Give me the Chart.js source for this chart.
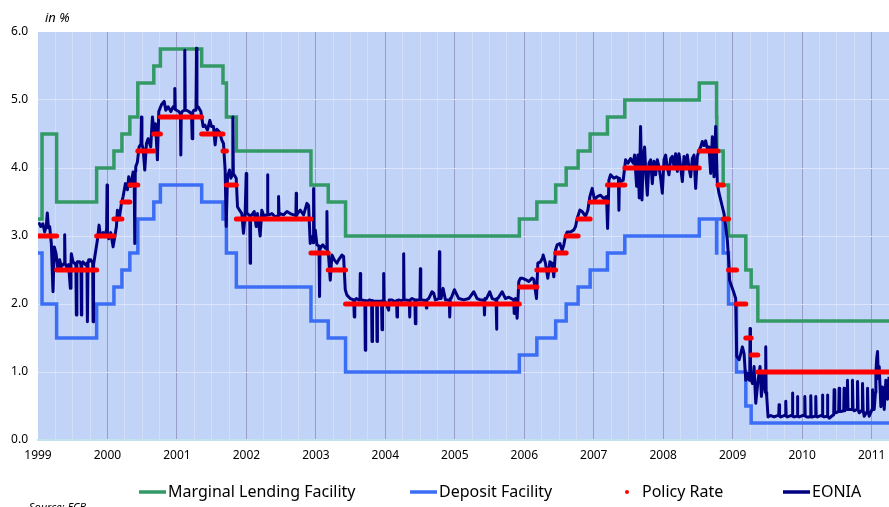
<!DOCTYPE html>
<html>
<head>
<meta charset="utf-8">
<script src="https://cdn.jsdelivr.net/npm/chart.js@4.4.1/dist/chart.umd.min.js"></script>
<style>
  html, body { margin: 0; padding: 0; background: #fff; overflow: hidden; }
  #wrap { width: 889px; height: 507px; position: relative; }
</style>
</head>
<body>
<div id="wrap"><canvas id="c"></canvas></div>
<script>
// key ECB rates: dates (decimal years) when a rate changed, and the level from that date on
const rateDates = [1999.0, 1999.058, 1999.268, 1999.844, 2000.093, 2000.208, 2000.322, 2000.437, 2000.667, 2000.762,
  2001.356, 2001.663, 2001.712, 2001.855, 2002.929, 2003.178, 2003.427, 2005.929, 2006.181, 2006.452,
  2006.603, 2006.775, 2006.948, 2007.197, 2007.447, 2008.519, 2008.768, 2008.771, 2008.787, 2008.863,
  2008.940, 2009.055, 2009.189, 2009.266, 2009.362, 2011.25];
const marginalLending = [3.25, 4.50, 3.50, 4.00, 4.25, 4.50, 4.75, 5.25, 5.50, 5.75,
  5.50, 5.25, 4.75, 4.25, 3.75, 3.50, 3.00, 3.25, 3.50, 3.75,
  4.00, 4.25, 4.50, 4.75, 5.00, 5.25, 4.75, 4.25, 4.25, 3.75,
  3.00, 3.00, 2.50, 2.25, 1.75, 1.75];
const depositFacility = [2.75, 2.00, 1.50, 2.00, 2.25, 2.50, 2.75, 3.25, 3.50, 3.75,
  3.50, 3.25, 2.75, 2.25, 1.75, 1.50, 1.00, 1.25, 1.50, 1.75,
  2.00, 2.25, 2.50, 2.75, 3.00, 3.25, 2.75, 3.25, 3.25, 2.75,
  2.00, 1.00, 0.50, 0.25, 0.25, 0.25];
const policyRate = [3.00, 3.00, 2.50, 3.00, 3.25, 3.50, 3.75, 4.25, 4.50, 4.75,
  4.50, 4.25, 3.75, 3.25, 2.75, 2.50, 2.00, 2.25, 2.50, 2.75,
  3.00, 3.25, 3.50, 3.75, 4.00, 4.25, 4.25, 4.25, 3.75, 3.25,
  2.50, 2.00, 1.50, 1.25, 1.00, 1.00];

// EONIA [decimal year, %]
const eonia = [
  [1999.01,3.20],[1999.04,3.14],[1999.07,3.18],[1999.096,3.06],[1999.12,3.15],[1999.134,3.34],[1999.15,3.12],[1999.168,3.14],
  [1999.192,2.89],[1999.216,2.18],[1999.235,2.84],[1999.26,2.74],[1999.288,2.50],[1999.312,2.65],[1999.336,2.55],[1999.378,2.60],
  [1999.384,3.02],[1999.39,2.60],[1999.408,2.55],[1999.44,2.58],[1999.466,2.23],[1999.475,2.60],[1999.48,2.74],[1999.504,2.62],
  [1999.545,2.58],[1999.552,1.84],[1999.56,2.60],[1999.567,2.62],[1999.60,2.62],[1999.618,2.58],[1999.624,1.84],[1999.63,2.60],
  [1999.648,2.62],[1999.68,2.58],[1999.705,2.60],[1999.711,1.74],[1999.72,2.62],[1999.73,2.65],[1999.759,2.65],[1999.787,2.60],
  [1999.793,1.74],[1999.80,2.58],[1999.826,2.75],[1999.855,2.94],[1999.879,3.16],[1999.90,3.00],[1999.913,2.99],[1999.937,3.05],
  [1999.961,2.99],[1999.988,3.10],[1999.994,3.75],[2000.00,3.00],[2000.018,2.96],[2000.047,3.05],[2000.081,2.84],[2000.105,2.99],
  [2000.129,3.14],[2000.143,3.38],[2000.167,3.24],[2000.201,3.48],[2000.225,3.58],[2000.258,3.77],[2000.287,3.68],[2000.306,3.87],
  [2000.335,3.73],[2000.369,3.94],[2000.385,3.82],[2000.393,2.89],[2000.40,3.95],[2000.407,4.02],[2000.431,4.09],[2000.455,4.31],
  [2000.482,4.35],[2000.489,4.75],[2000.496,4.35],[2000.513,4.28],[2000.537,3.97],[2000.561,4.36],[2000.585,4.43],[2000.623,4.31],
  [2000.647,4.75],[2000.671,4.53],[2000.691,4.65],[2000.719,4.12],[2000.739,4.83],[2000.777,4.93],[2000.816,4.98],[2000.840,4.85],
  [2000.873,4.90],[2000.912,4.83],[2000.945,4.90],[2000.962,4.88],[2000.969,5.17],[2000.976,4.86],[2000.993,4.85],[2001.027,4.83],
  [2001.05,4.80],[2001.056,4.19],[2001.062,4.80],[2001.075,4.83],[2001.106,4.85],[2001.113,5.73],[2001.12,4.85],[2001.137,4.85],
  [2001.171,4.83],[2001.21,4.80],[2001.219,4.43],[2001.228,4.82],[2001.243,4.85],[2001.274,4.85],[2001.281,5.76],[2001.288,4.90],
  [2001.305,4.90],[2001.344,4.83],[2001.377,4.61],[2001.402,4.63],[2001.440,4.56],[2001.474,4.70],[2001.498,4.61],[2001.526,4.61],
  [2001.550,4.34],[2001.574,4.57],[2001.612,4.53],[2001.646,4.41],[2001.670,4.36],[2001.694,3.97],[2001.709,3.14],[2001.728,3.87],
  [2001.757,3.97],[2001.776,3.85],[2001.798,3.90],[2001.805,4.75],[2001.812,3.90],[2001.824,3.90],[2001.853,3.85],[2001.872,3.43],
  [2001.901,3.38],[2001.934,3.33],[2001.958,3.04],[2001.982,3.33],[2001.997,3.92],[2002.005,3.33],[2002.016,3.33],[2002.048,3.30],
  [2002.054,2.60],[2002.060,3.30],[2002.078,3.31],[2002.112,3.36],[2002.141,3.14],[2002.160,3.33],[2002.198,3.00],[2002.222,3.38],
  [2002.256,3.28],[2002.285,3.31],[2002.298,3.31],[2002.304,3.90],[2002.310,3.31],[2002.323,3.31],[2002.367,3.33],[2002.415,3.28],
  [2002.458,3.30],[2002.463,3.58],[2002.470,3.30],[2002.487,3.33],[2002.535,3.31],[2002.583,3.36],[2002.631,3.33],[2002.679,3.31],
  [2002.712,3.30],[2002.717,3.63],[2002.722,3.30],[2002.736,3.33],[2002.775,3.38],[2002.823,3.31],[2002.871,3.48],[2002.895,3.45],
  [2002.919,2.89],[2002.943,2.99],[2002.960,2.90],[2002.967,3.70],[2002.975,2.95],[2002.991,3.09],[2003.015,2.87],[2003.045,2.85],
  [2003.053,2.11],[2003.060,2.83],[2003.073,2.84],[2003.101,2.87],[2003.135,2.82],[2003.155,2.85],[2003.159,3.36],[2003.165,2.80],
  [2003.183,2.70],[2003.207,2.35],[2003.231,2.72],[2003.265,2.65],[2003.303,2.60],[2003.327,2.65],[2003.375,2.72],[2003.399,2.70],
  [2003.423,2.21],[2003.447,2.13],[2003.495,2.08],[2003.545,2.06],[2003.553,1.81],[2003.560,2.06],[2003.582,2.08],[2003.615,2.06],
  [2003.634,2.06],[2003.639,2.45],[2003.645,2.06],[2003.663,2.06],[2003.705,2.05],[2003.711,1.32],[2003.718,2.05],[2003.735,2.04],
  [2003.774,2.06],[2003.802,2.05],[2003.808,1.45],[2003.815,2.05],[2003.832,2.04],[2003.875,2.04],[2003.880,1.45],[2003.886,2.04],
  [2003.904,2.04],[2003.945,2.04],[2003.952,1.62],[2003.960,2.05],[2003.970,2.05],[2003.976,2.45],[2003.982,2.05],[2004.000,2.03],
  [2004.048,1.91],[2004.055,2.06],[2004.096,2.06],[2004.144,2.03],[2004.162,2.05],[2004.168,1.81],[2004.175,2.05],[2004.192,2.06],
  [2004.230,2.05],[2004.258,2.06],[2004.264,2.74],[2004.270,2.06],[2004.288,2.06],[2004.345,2.05],[2004.351,1.81],[2004.357,2.06],
  [2004.384,2.08],[2004.425,2.06],[2004.432,1.71],[2004.440,2.06],[2004.456,2.06],[2004.498,2.06],[2004.504,2.52],[2004.510,2.06],
  [2004.528,2.06],[2004.585,2.05],[2004.591,1.94],[2004.598,2.06],[2004.624,2.08],[2004.672,2.18],[2004.696,2.16],[2004.720,2.06],
  [2004.772,2.08],[2004.778,2.77],[2004.784,2.08],[2004.802,2.08],[2004.831,2.23],[2004.865,2.06],[2004.920,2.06],[2004.927,1.81],
  [2004.935,2.08],[2004.946,2.08],[2004.994,2.21],[2005.057,2.08],[2005.129,2.06],[2005.201,2.08],[2005.273,2.18],[2005.321,2.08],
  [2005.369,2.06],[2005.420,2.06],[2005.427,1.84],[2005.435,2.08],[2005.455,2.08],[2005.503,2.18],[2005.537,2.08],[2005.594,2.06],
  [2005.600,1.63],[2005.607,2.08],[2005.619,2.08],[2005.681,2.18],[2005.729,2.08],[2005.777,2.10],[2005.849,2.06],[2005.855,1.86],
  [2005.873,2.08],[2005.897,1.79],[2005.921,2.33],[2005.945,2.38],[2005.969,2.38],[2006.017,2.36],[2006.065,2.33],[2006.113,2.38],
  [2006.137,2.36],[2006.176,2.08],[2006.195,2.60],[2006.233,2.62],[2006.265,2.68],[2006.272,2.72],[2006.305,2.60],[2006.339,2.38],
  [2006.368,2.62],[2006.401,2.60],[2006.425,2.40],[2006.449,2.79],[2006.473,2.87],[2006.512,2.89],[2006.545,2.79],[2006.569,2.87],
  [2006.593,3.00],[2006.618,3.06],[2006.666,3.06],[2006.714,3.09],[2006.738,3.14],[2006.762,3.26],[2006.800,3.38],[2006.834,3.36],
  [2006.882,3.29],[2006.915,3.38],[2006.944,3.58],[2006.978,3.70],[2007.011,3.53],[2007.050,3.58],[2007.098,3.60],[2007.146,3.55],
  [2007.184,3.58],[2007.199,3.11],[2007.218,3.82],[2007.242,3.90],[2007.290,3.85],[2007.328,3.87],[2007.355,3.85],[2007.362,3.38],
  [2007.370,3.85],[2007.386,3.80],[2007.424,3.82],[2007.458,4.12],[2007.492,4.07],[2007.530,4.14],[2007.569,4.07],[2007.588,4.19],
  [2007.617,3.73],[2007.636,4.19],[2007.655,3.56],[2007.674,4.61],[2007.694,3.53],[2007.713,4.16],[2007.732,4.31],[2007.751,3.90],
  [2007.771,3.60],[2007.795,4.07],[2007.819,4.12],[2007.843,3.77],[2007.867,4.10],[2007.891,3.90],[2007.915,4.12],[2007.939,4.02],
  [2007.963,3.85],[2007.987,3.63],[2008.011,4.12],[2008.035,4.19],[2008.059,4.00],[2008.083,3.90],[2008.107,4.14],[2008.131,4.17],
  [2008.155,4.02],[2008.179,4.21],[2008.203,3.95],[2008.227,4.21],[2008.251,4.02],[2008.275,3.80],[2008.299,4.17],[2008.323,4.05],
  [2008.347,4.19],[2008.371,4.00],[2008.395,3.87],[2008.419,4.14],[2008.443,4.19],[2008.467,3.70],[2008.491,4.17],[2008.515,4.26],
  [2008.539,4.31],[2008.563,4.39],[2008.587,4.33],[2008.611,4.40],[2008.635,4.28],[2008.659,4.31],[2008.683,3.92],[2008.707,4.46],
  [2008.731,3.87],[2008.755,4.61],[2008.779,3.77],[2008.803,3.63],[2008.827,3.53],[2008.851,3.43],[2008.875,3.33],[2008.899,3.14],
  [2008.923,2.94],[2008.945,2.60],[2008.955,2.35],[2008.971,2.30],[2009.019,2.16],[2009.043,2.08],[2009.058,1.23],[2009.092,1.18],
  [2009.116,1.27],[2009.140,1.37],[2009.164,1.27],[2009.188,0.88],[2009.212,0.98],[2009.236,0.88],[2009.245,0.90],[2009.250,1.64],
  [2009.256,0.90],[2009.269,0.88],[2009.284,0.83],[2009.308,1.08],[2009.332,0.54],[2009.365,0.88],[2009.394,1.08],[2009.413,0.64],
  [2009.442,0.98],[2009.470,0.70],[2009.476,1.37],[2009.482,0.70],[2009.490,0.64],[2009.509,0.34],[2009.548,0.36],[2009.596,0.34],
  [2009.644,0.36],[2009.662,0.36],[2009.668,0.52],[2009.675,0.35],[2009.692,0.34],[2009.740,0.36],[2009.758,0.36],[2009.764,0.57],
  [2009.770,0.35],[2009.788,0.34],[2009.836,0.36],[2009.854,0.36],[2009.860,0.69],[2009.866,0.35],[2009.884,0.34],[2009.926,0.35],
  [2009.932,0.64],[2009.938,0.35],[2009.956,0.34],[2010.004,0.36],[2010.032,0.36],[2010.038,0.64],[2010.044,0.35],[2010.067,0.34],
  [2010.100,0.34],[2010.118,0.35],[2010.124,0.65],[2010.130,0.34],[2010.148,0.34],[2010.190,0.35],[2010.196,0.64],[2010.202,0.35],
  [2010.220,0.34],[2010.268,0.36],[2010.286,0.36],[2010.292,0.66],[2010.298,0.35],[2010.316,0.34],[2010.358,0.35],[2010.364,0.66],
  [2010.370,0.35],[2010.388,0.32],[2010.436,0.36],[2010.454,0.37],[2010.460,0.74],[2010.470,0.42],[2010.484,0.40],[2010.526,0.42],
  [2010.532,0.76],[2010.540,0.42],[2010.556,0.42],[2010.598,0.43],[2010.604,0.76],[2010.612,0.43],[2010.628,0.45],[2010.646,0.45],
  [2010.652,0.88],[2010.660,0.45],[2010.676,0.45],[2010.718,0.45],[2010.724,0.88],[2010.732,0.45],[2010.748,0.43],[2010.791,0.45],
  [2010.797,0.86],[2010.805,0.45],[2010.821,0.40],[2010.863,0.44],[2010.869,0.83],[2010.877,0.44],[2010.893,0.35],[2010.935,0.42],
  [2010.941,0.76],[2010.949,0.42],[2010.965,0.35],[2011.007,0.45],[2011.013,0.74],[2011.021,0.45],[2011.037,0.45],[2011.055,0.70],
  [2011.061,0.98],[2011.073,1.20],[2011.085,1.30],[2011.097,0.90],[2011.109,1.08],[2011.133,0.49],[2011.157,0.78],[2011.181,0.45],
  [2011.205,0.88],[2011.229,0.60],[2011.25,0.93]
];

const seriesNames = ['Marginal Lending Facility', 'Deposit Facility', 'Policy Rate', 'EONIA'];
const colors = ['#339966', '#3c6ef5', '#ff0000', '#000080'];

const xMin = 1999, xMax = 2011.25;

function steps(vals) {
  return rateDates.map((d, i) => ({x: d, y: vals[i]}));
}
// policy rate: one flat piece per period, no vertical joins
function pieces(vals) {
  const out = [];
  for (let i = 0; i < rateDates.length - 1; i++) {
    out.push({x: rateDates[i], y: vals[i]}, {x: rateDates[i + 1], y: vals[i]}, {x: rateDates[i + 1], y: null});
  }
  return out;
}

const decor = {
  id: 'decor',
  beforeDraw(chart) {
    const {ctx, chartArea: a} = chart;
    ctx.save();
    ctx.fillStyle = '#c1d4f7';
    ctx.fillRect(a.left, a.top, a.right - a.left, a.bottom - a.top);
    ctx.restore();
  },
  afterDraw(chart) {
    const ctx = chart.ctx;
    ctx.save();
    ctx.fillStyle = '#000';
    ctx.textBaseline = 'middle';
    ctx.font = "italic 13px 'Noto Sans'";
    ctx.fillText('in %', 45, 18);

    // legend
    const items = [
      {line: 139, text: 168},
      {line: 410, text: 439},
      {dot: 627, text: 642},
      {line: 783, text: 812}
    ];
    const ly = 492;
    ctx.font = "16px 'Noto Sans'";
    items.forEach((it, i) => {
      if (it.dot !== undefined) {
        ctx.fillStyle = colors[i];
        ctx.beginPath();
        ctx.arc(it.dot, ly, 2, 0, Math.PI * 2);
        ctx.fill();
      } else {
        ctx.strokeStyle = colors[i];
        ctx.lineWidth = 3.5;
        ctx.beginPath();
        ctx.moveTo(it.line, ly);
        ctx.lineTo(it.line + 27, ly);
        ctx.stroke();
      }
      ctx.fillStyle = '#000';
      ctx.fillText(seriesNames[i], it.text, ly);
    });

    ctx.font = "italic 11px 'Noto Sans'";
    ctx.textBaseline = 'top';
    ctx.fillText('Source: ECB', 29, 502);
    ctx.restore();
  }
};

Chart.defaults.font.family = "'Noto Sans', sans-serif";
Chart.defaults.color = '#000';

new Chart(document.getElementById('c'), {
  type: 'line',
  data: {
    datasets: [
      {label: seriesNames[0], data: steps(marginalLending), stepped: true, borderColor: colors[0], borderWidth: 3.5, order: 3},
      {label: seriesNames[1], data: steps(depositFacility), stepped: true, borderColor: colors[1], borderWidth: 3.5, order: 2},
      {label: seriesNames[2], data: pieces(policyRate), borderColor: colors[2], borderWidth: 5, borderCapStyle: 'round', spanGaps: false, order: 0},
      {label: seriesNames[3], data: eonia.map(p => ({x: p[0], y: p[1]})), borderColor: colors[3], borderWidth: 3, borderJoinStyle: 'round', order: 1}
    ]
  },
  options: {
    responsive: true,
    maintainAspectRatio: false,
    animation: false,
    layout: {autoPadding: false, padding: {top: 32, right: 0, bottom: 47, left: 0}},
    elements: {point: {radius: 0, hoverRadius: 0}, line: {tension: 0, fill: false}},
    plugins: {legend: {display: false}, tooltip: {enabled: false}},
    scales: {
      x: {
        type: 'linear',
        min: xMin,
        max: xMax,
        afterFit: s => { s.height = 20; s.paddingLeft = 0; s.paddingRight = 0; },
        ticks: {
          stepSize: 0.25,
          autoSkip: false,
          maxRotation: 0,
          minRotation: 0,
          padding: 8,
          font: {size: 12},
          callback: v => Number.isInteger(v) ? String(v) : ''
        },
        grid: {
          drawTicks: false,
          lineWidth: 1,
          color: c => {
            const v = c.tick ? c.tick.value : 0;
            if (v === xMin) return 'rgba(0,0,0,0)';
            return Number.isInteger(v) ? '#9a9dcb' : '#d3dff9';
          }
        },
        border: {display: true, color: '#bfe4ee', width: 2}
      },
      y: {
        min: 0,
        max: 6,
        afterFit: s => { s.width = 38; s.paddingTop = 0; s.paddingBottom = 0; },
        ticks: {
          stepSize: 1,
          padding: 10,
          font: {size: 12},
          callback: v => v.toFixed(1)
        },
        grid: {
          drawTicks: false,
          color: c => (c.tick && (c.tick.value === 0 || c.tick.value === 6)) ? 'rgba(0,0,0,0)' : '#dbe4fb'
        },
        border: {display: false}
      }
    }
  },
  plugins: [decor]
});
</script>
</body>
</html>
